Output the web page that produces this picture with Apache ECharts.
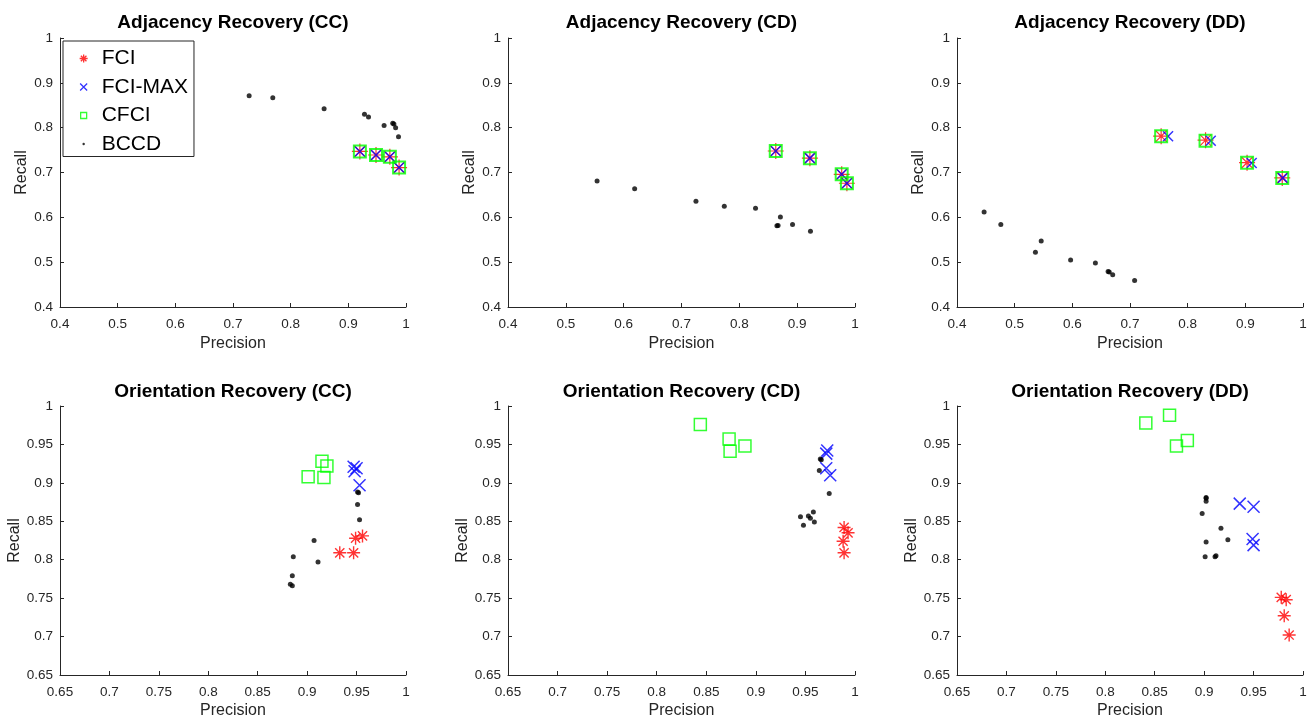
<!DOCTYPE html>
<html>
<head>
<meta charset="utf-8">
<script src="https://cdn.jsdelivr.net/npm/echarts@6/dist/echarts.min.js"></script>
<style>
  html, body { margin: 0; padding: 0; background: #fff; }
  #main { width: 1311px; height: 720px; }
</style>
</head>
<body>
<div id="main"></div>
<script>
// precision / recall pairs
var adjCC_FCI    = [[0.920, 0.747], [0.948, 0.739], [0.972, 0.735], [0.988, 0.711]];
var adjCC_MAX    = [[0.920, 0.747], [0.948, 0.739], [0.972, 0.735], [0.988, 0.711]];
var adjCC_CFCI   = [[0.920, 0.747], [0.948, 0.739], [0.972, 0.735], [0.988, 0.711]];
var adjCC_BCCD   = [[0.728, 0.871], [0.769, 0.867], [0.858, 0.842], [0.928, 0.830], [0.935, 0.824],
                    [0.962, 0.805], [0.977, 0.810], [0.979, 0.808], [0.982, 0.800], [0.987, 0.780]];

var adjCD_FCI    = [[0.863, 0.748], [0.922, 0.732], [0.977, 0.696], [0.986, 0.676]];
var adjCD_MAX    = [[0.863, 0.748], [0.922, 0.732], [0.977, 0.696], [0.986, 0.676]];
var adjCD_CFCI   = [[0.863, 0.748], [0.922, 0.732], [0.977, 0.696], [0.986, 0.676]];
var adjCD_BCCD   = [[0.554, 0.681], [0.619, 0.664], [0.725, 0.636], [0.774, 0.625], [0.828, 0.620],
                    [0.871, 0.601], [0.865, 0.581], [0.867, 0.582], [0.892, 0.584], [0.923, 0.569]];

var adjDD_FCI    = [[0.754, 0.781], [0.831, 0.772], [0.903, 0.722], [0.964, 0.688]];
var adjDD_MAX    = [[0.766, 0.781], [0.840, 0.771], [0.911, 0.721], [0.965, 0.688]];
var adjDD_CFCI   = [[0.754, 0.781], [0.831, 0.771], [0.903, 0.722], [0.964, 0.688]];
var adjDD_BCCD   = [[0.447, 0.612], [0.476, 0.584], [0.536, 0.522], [0.546, 0.547], [0.597, 0.505],
                    [0.640, 0.498], [0.662, 0.479], [0.664, 0.478], [0.670, 0.472], [0.708, 0.459]];

var oriCC_FCI    = [[0.933, 0.809], [0.947, 0.809], [0.949, 0.828], [0.956, 0.831]];
var oriCC_MAX    = [[0.947, 0.921], [0.950, 0.919], [0.948, 0.915], [0.953, 0.897]];
var oriCC_CFCI   = [[0.915, 0.928], [0.920, 0.922], [0.901, 0.908], [0.917, 0.907]];
var oriCC_BCCD   = [[0.951, 0.888], [0.952, 0.887], [0.951, 0.872], [0.953, 0.852], [0.907, 0.825],
                    [0.886, 0.804], [0.911, 0.797], [0.885, 0.779], [0.883, 0.768], [0.885, 0.766]];

var oriCD_FCI    = [[0.989, 0.842], [0.993, 0.835], [0.988, 0.824], [0.989, 0.809]];
var oriCD_MAX    = [[0.972, 0.942], [0.971, 0.938], [0.971, 0.919], [0.975, 0.910]];
var oriCD_CFCI   = [[0.844, 0.976], [0.873, 0.957], [0.874, 0.941], [0.889, 0.948]];
var oriCD_BCCD   = [[0.965, 0.931], [0.966, 0.930], [0.964, 0.916], [0.974, 0.886], [0.945, 0.856],
                    [0.953, 0.857], [0.955, 0.854], [0.958, 0.862], [0.948, 0.845], [0.959, 0.849]];

var oriDD_FCI    = [[0.978, 0.751], [0.983, 0.748], [0.981, 0.727], [0.986, 0.702]];
var oriDD_MAX    = [[0.936, 0.873], [0.950, 0.869], [0.949, 0.827], [0.950, 0.819]];
var oriDD_CFCI   = [[0.841, 0.978], [0.865, 0.988], [0.872, 0.948], [0.883, 0.955]];
var oriDD_BCCD   = [[0.902, 0.881], [0.902, 0.876], [0.898, 0.860], [0.917, 0.841], [0.924, 0.826],
                    [0.902, 0.823], [0.901, 0.804], [0.911, 0.804], [0.912, 0.805], [0.902, 0.880]];

var titles = ['Adjacency Recovery (CC)', 'Adjacency Recovery (CD)', 'Adjacency Recovery (DD)',
              'Orientation Recovery (CC)', 'Orientation Recovery (CD)', 'Orientation Recovery (DD)'];
var methods = ['FCI', 'FCI-MAX', 'CFCI', 'BCCD'];
var panels = [
    [adjCC_FCI, adjCC_MAX, adjCC_CFCI, adjCC_BCCD],
    [adjCD_FCI, adjCD_MAX, adjCD_CFCI, adjCD_BCCD],
    [adjDD_FCI, adjDD_MAX, adjDD_CFCI, adjDD_BCCD],
    [oriCC_FCI, oriCC_MAX, oriCC_CFCI, oriCC_BCCD],
    [oriCD_FCI, oriCD_MAX, oriCD_CFCI, oriCD_BCCD],
    [oriDD_FCI, oriDD_MAX, oriDD_CFCI, oriDD_BCCD]
];
var axisMin = [0.4, 0.4, 0.4, 0.65, 0.65, 0.65];
var axisStep = [0.1, 0.1, 0.1, 0.05, 0.05, 0.05];

var FONT = '"Liberation Sans", Arial, Helvetica, sans-serif';
var AX = '#262626';

var starPath = 'path://M0,-1L0,1M-1,0L1,0M-0.707,-0.707L0.707,0.707M-0.707,0.707L0.707,-0.707';
var crossPath = 'path://M-1,-1L1,1M-1,1L1,-1';

// layout of the six axes boxes
var gridLeft = [60, 508, 957];
var gridW = [346, 347, 346];

var dom = document.getElementById('main');
var myChart = echarts.init(dom);

var grids = [], xAxes = [], yAxes = [], titleList = [], series = [];

for (var i = 0; i < 6; i++) {
    var col = i % 3, row = Math.floor(i / 3);
    grids.push({
        left: gridLeft[col],
        top: row == 0 ? 38 : 406,
        width: gridW[col],
        height: row == 0 ? 269 : 271
    });
    titleList.push({
        text: titles[i],
        left: gridLeft[col] + gridW[col] / 2,
        top: row == 0 ? 13 : 382,
        textAlign: 'center',
        padding: 0,
        textStyle: { fontFamily: FONT, fontSize: 19, fontWeight: 'bold', color: '#000' }
    });
    var common = {
        gridIndex: i,
        type: 'value',
        min: axisMin[i],
        max: 1,
        interval: axisStep[i],
        nameLocation: 'middle',
        nameTextStyle: { fontFamily: FONT, fontSize: 16, color: AX },
        axisLine: { show: true, onZero: false, lineStyle: { color: AX, width: 1 } },
        axisTick: { show: true, inside: true, length: 4, lineStyle: { color: AX, width: 1 } },
        axisLabel: { fontFamily: FONT, fontSize: 13.5, color: AX },
        splitLine: { show: false }
    };
    xAxes.push(Object.assign({}, common, {
        name: 'Precision', nameGap: row == 0 ? 29 : 28,
        axisLabel: Object.assign({}, common.axisLabel, { margin: 10 })
    }));
    yAxes.push(Object.assign({}, common, {
        name: 'Recall', nameGap: row == 0 ? 30 : 37,
        axisLabel: Object.assign({}, common.axisLabel, { margin: 7 })
    }));

    var d = panels[i];
    var big = row == 1;
    series.push({
        name: 'FCI', type: 'scatter', xAxisIndex: i, yAxisIndex: i,
        symbol: starPath, symbolSize: big ? 13 : 16,
        itemStyle: { color: 'rgba(0,0,0,0)', borderColor: '#ff0000', borderWidth: big ? 1.4 : 1.2 },
        data: d[0]
    });
    series.push({
        name: 'FCI-MAX', type: 'scatter', xAxisIndex: i, yAxisIndex: i,
        symbol: crossPath, symbolSize: big ? 12 : 10,
        itemStyle: { color: 'rgba(0,0,0,0)', borderColor: '#0000ff', borderWidth: 1.5 },
        data: d[1]
    });
    series.push({
        name: 'CFCI', type: 'scatter', xAxisIndex: i, yAxisIndex: i,
        symbol: 'rect', symbolSize: 12,
        itemStyle: { color: 'rgba(0,0,0,0)', borderColor: '#00ff00', borderWidth: big ? 1.5 : 2 },
        data: d[2]
    });
    series.push({
        name: 'BCCD', type: 'scatter', xAxisIndex: i, yAxisIndex: i,
        symbol: 'circle', symbolSize: 5,
        itemStyle: { color: '#000' },
        data: d[3]
    });
}

option = {
    backgroundColor: '#fff',
    animation: false,
    title: titleList,
    grid: grids,
    xAxis: xAxes,
    yAxis: yAxes,
    legend: {
        orient: 'vertical',
        left: 63,
        top: 41,
        padding: [7, 6, 2, 15],
        itemGap: 7.5,
        itemWidth: 26,
        itemHeight: 10,
        backgroundColor: '#fff',
        borderColor: AX,
        borderWidth: 1,
        borderRadius: 0,
        selectedMode: false,
        itemStyle: { borderWidth: 1.3 },
        textStyle: { fontFamily: FONT, fontSize: 21, color: '#000' },
        data: [
            { name: 'FCI', icon: 'path://M-5,-5M5,5M0,-4L0,4M-4,0L4,0M-2.8,-2.8L2.8,2.8M-2.8,2.8L2.8,-2.8' },
            { name: 'FCI-MAX', icon: 'path://M-5,-5M5,5M-3.5,-3.5L3.5,3.5M-3.5,3.5L3.5,-3.5' },
            { name: 'CFCI', icon: 'path://M-5,-5M5,5M-3,-3L3,-3L3,3L-3,3Z' },
            { name: 'BCCD', icon: 'path://M-5,-5M5,5M-1.2,0A1.2,1.2,0,1,1,1.2,0A1.2,1.2,0,1,1,-1.2,0Z' }
        ]
    },
    series: series
};

if (option && typeof option === "object") {
    myChart.setOption(option, true);
}
</script>
</body>
</html>
